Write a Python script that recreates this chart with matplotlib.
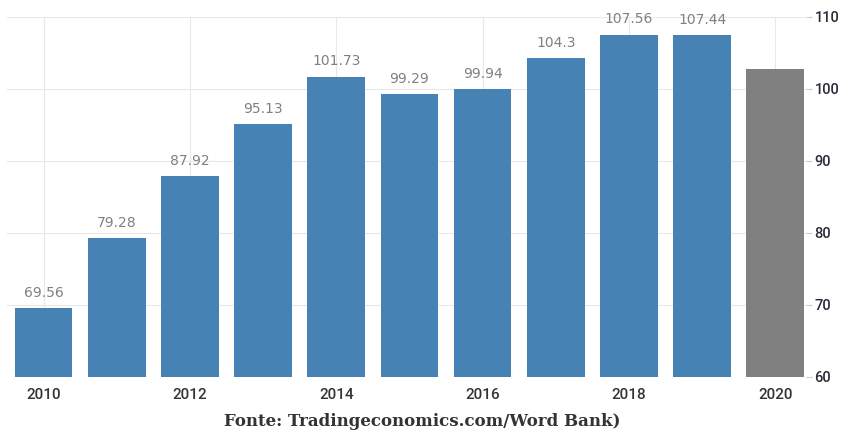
import matplotlib
matplotlib.use('Agg')
import matplotlib.pyplot as plt
import numpy as np

years = [2010, 2011, 2012, 2013, 2014, 2015, 2016, 2017, 2018, 2019, 2020]
values = [69.56, 79.28, 87.92, 95.13, 101.73, 99.29, 99.94, 104.3, 107.56, 107.44, 102.8]
labels = ['69.56', '79.28', '87.92', '95.13', '101.73', '99.29', '99.94', '104.3', '107.56', '107.44', '']
year_ticks = [2010, 2012, 2014, 2016, 2018, 2020]
y_ticks = [60, 70, 80, 90, 100, 110]

fig = plt.figure(figsize=(8.45, 4.32), dpi=100)
ax = fig.add_axes([7 / 845, 55 / 432, 799 / 845, 360 / 432])

colors = ['#4682b4'] * (len(years) - 1) + ['#808080']
bars = ax.bar(years, [v - 60 for v in values], bottom=60, width=0.79, color=colors, zorder=2)

for x, v, lab in zip(years, values, labels):
    if lab:
        ax.annotate(lab, (x, v), xytext=(0, 6), textcoords='offset points',
                    ha='center', va='bottom', fontsize=10, color='#808080',
                    family='DejaVu Sans')

ax.set_xlim(2009.5, 2020.42)
ax.set_ylim(60, 110)
ax.set_xticks(year_ticks)
ax.set_xticklabels([str(y) for y in year_ticks])
ax.set_yticks(y_ticks)

ax.yaxis.tick_right()
ax.tick_params(axis='y', length=4, width=0.8, color='#cccccc', pad=2,
               labelsize=10.5, labelcolor='#2a2a38')
ax.tick_params(axis='x', length=0, pad=8, labelsize=11, labelcolor='#333333')
for t in ax.get_xticklabels() + ax.get_yticklabels():
    t.set_family('Roboto')
    t.set_fontweight('medium')

ax.grid(True, color='#e8e8e8', linewidth=0.8, zorder=0)
for s in ax.spines.values():
    s.set_visible(False)

fig.text(0.5, 10 / 432, 'Fonte: Tradingeconomics.com/Word Bank)', ha='center', va='center',
         fontsize=12, fontweight='bold', color='#333333', family='DejaVu Serif')

fig.savefig('out.png', dpi=100)
